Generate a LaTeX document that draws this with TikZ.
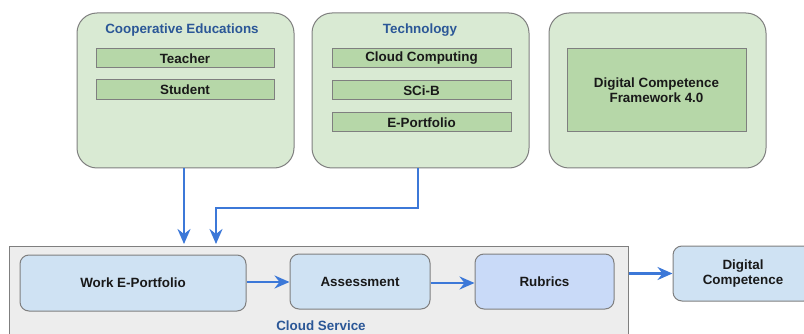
\documentclass[tikz,border=0pt]{standalone}
\usepackage{fontspec}
\setmainfont{Liberation Sans}
\usetikzlibrary{arrows.meta}
\definecolor{outergreen}{HTML}{D9EAD3}
\definecolor{innergreen}{HTML}{B6D7A8}
\definecolor{boxblue}{HTML}{CFE2F3}
\definecolor{boxblueb}{HTML}{C9DAF8}
\definecolor{bordergray}{HTML}{7F7F7F}
\definecolor{arrowblue}{HTML}{3C78D8}
\definecolor{titleblue}{HTML}{2B5797}
\definecolor{bggray}{HTML}{EDEDED}
\tikzset{
  lbl/.style={font=\fontsize{13.4}{15}\selectfont\bfseries, text=black!90, align=center},
  groupbox/.style={draw=bordergray, line width=1pt, fill=outergreen, rounded corners=20pt, inner sep=0pt},
  itembox/.style={draw=bordergray, line width=1pt, fill=innergreen, inner sep=0pt, lbl},
  stagebox/.style={draw=bordergray, line width=1pt, fill=boxblue, rounded corners=9pt, inner sep=0pt, lbl},
  titletext/.style={font=\fontsize{13.4}{15}\selectfont\bfseries, text=titleblue},
  flow/.style={draw=arrowblue, line width=2.6pt, -{Stealth[length=15pt,width=13pt,inset=5pt]}}
}
\begin{document}
\begin{tikzpicture}[x=1pt,y=-1pt]
\useasboundingbox (0,0) rectangle (804,334);
% top groups
\node[groupbox, minimum width=217pt, minimum height=155pt] (coop) at (185.5,90.5) {};
\node[titletext] (cooptitle) at (182,30) {Cooperative Educations};
\node[itembox, minimum width=178pt, minimum height=19pt] (teacher) at (185,58.5) {Teacher};
\node[itembox, minimum width=178pt, minimum height=20pt] (student) at (185,90) {Student};

\node[groupbox, minimum width=217pt, minimum height=155pt] (tech) at (420.5,90.5) {};
\node[titletext] (techtitle) at (420,30) {Technology};
\node[itembox, minimum width=179pt, minimum height=19pt] (cloudc) at (421.5,58.5) {Cloud Computing};
\node[itembox, minimum width=179pt, minimum height=19pt] (scib) at (421.5,90.5) {SCi-B};
\node[itembox, minimum width=179pt, minimum height=19pt] (eport) at (421.5,122.5) {E-Portfolio};

\node[groupbox, minimum width=217pt, minimum height=155pt] (dcfgroup) at (657.5,90.5) {};
\node[itembox, minimum width=179pt, minimum height=83pt] (dcf) at (656.5,90.5) {Digital Competence\\Framework 4.0};

% cloud service
\node[draw=bordergray, line width=1pt, fill=bggray, minimum width=619pt, minimum height=110pt, inner sep=0pt] (cloud) at (318.5,301) {};
\node[titletext] (cloudtitle) at (321,326) {Cloud Service};
\node[stagebox, minimum width=226pt, minimum height=56pt] (work) at (133,283) {Work E-Portfolio};
\node[stagebox, minimum width=140pt, minimum height=55pt] (assess) at (360,281.5) {Assessment};
\node[stagebox, fill=boxblueb, minimum width=139pt, minimum height=55pt] (rubrics) at (544.5,281.5) {Rubrics};
\node[stagebox, minimum width=140pt, minimum height=55pt] (digital) at (743,273.5) {Digital\\Competence};

% connectors
\coordinate (c1) at (184,168);
\coordinate (c1e) at (184,244);
\coordinate (t1) at (418,168);
\coordinate (t2) at (418,208);
\coordinate (t3) at (216,208);
\coordinate (t4) at (216,244);
\path[flow] (c1) -- (c1e);
\path[flow] (t1) -- (t2) -- (t3) -- (t4);
\path[flow] (work.east |- 0,282) -- (assess.west |- 0,282);
\path[flow] (assess.east |- 0,283) -- (rubrics.west |- 0,283);
\path[flow] (cloud.east |- digital.west) -- (digital.west);
\end{tikzpicture}
\end{document}
